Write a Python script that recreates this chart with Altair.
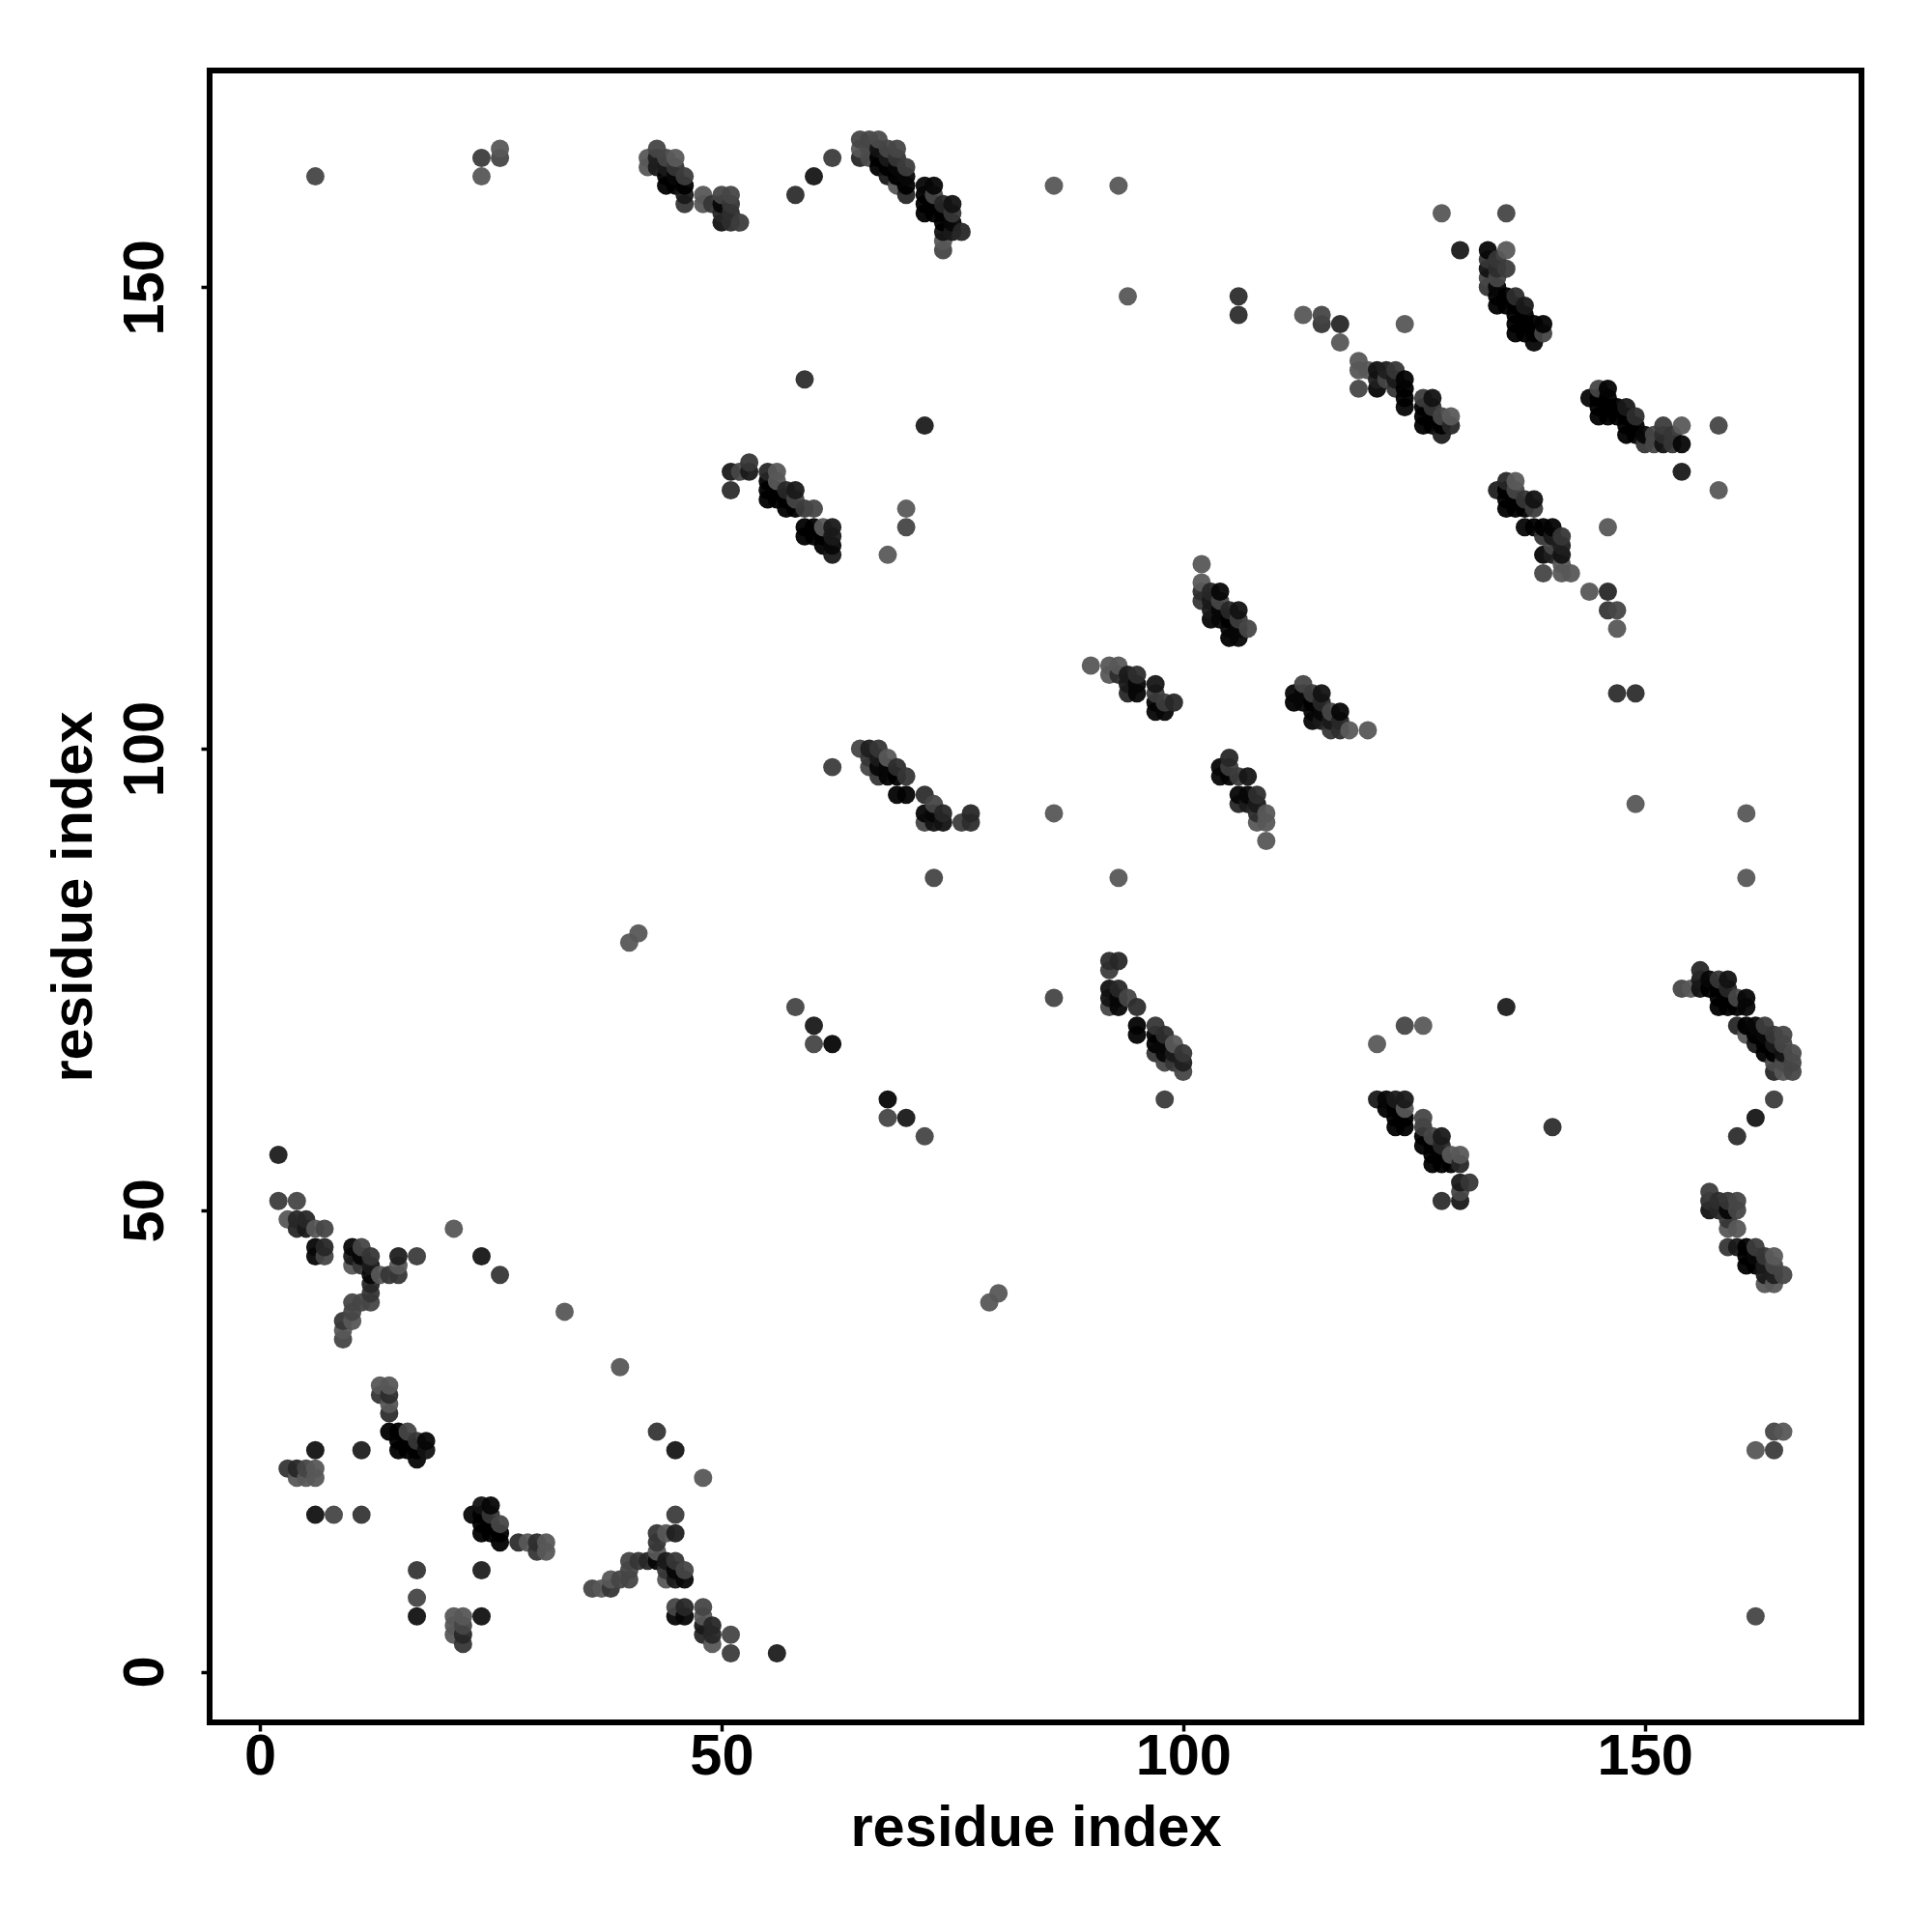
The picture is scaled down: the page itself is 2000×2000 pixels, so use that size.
import altair as alt
import pandas as pd

# Contact pairs (lower residue, higher residue, grey level of the mark).
near_diagonal = [
    (2,56,0x28),(2,51,0x4a),(4,51,0x55),(3,49,0x66),(4,49,0x33),(5,49,0x33),(4,48,0x33),(5,48,0x22),
    (6,48,0x66),(7,48,0x55),(21,48,0x66),(6,46,0x11),(7,46,0x33),(10,46,0x11),(11,46,0x55),(6,45,0x11),
    (7,45,0x55),(10,45,0x22),(11,45,0x11),(12,45,0x44),(15,45,0x2a),(17,45,0x4a),(24,45,0x1f),(10,44,0x66),
    (11,44,0x44),(12,44,0x22),(15,44,0x66),(12,43,0x11),(13,43,0x66),(14,43,0x44),(15,43,0x44),(26,43,0x44),
    (12,42,0x33),(12,41,0x44),(10,40,0x55),(11,40,0x55),(12,40,0x55),(10,39,0x55),(33,39,0x66),(9,38,0x44),
    (10,38,0x66),(9,37,0x66),(9,36,0x55),(13,31,0x66),(14,31,0x66),(13,30,0x44),(14,30,0x3a),(14,29,0x66),
    (14,28,0x3a),(14,26,0x0a),(15,26,0x0a),(16,26,0x55),(15,25,0x0a),(16,25,0x0a),(17,25,0x44),(18,25,0x11),
    (6,24,0x1a),(11,24,0x2a),(15,24,0x0a),(16,24,0x0a),(17,24,0x0a),(18,24,0x1a),(17,23,0x11),(3,22,0x44),
    (4,22,0x33),(5,22,0x55),(6,22,0x66),(4,21,0x66),(5,21,0x66),(6,21,0x66),(6,17,0x1a),(8,17,0x55),(11,17,0x44),
]
block_43_52 = [
    (43,165,0x55),(42,164,0x66),(43,164,0x2a),(44,164,0x55),(45,164,0x6a),(42,163,0x66),(43,163,0x22),
    (44,163,0x22),(45,163,0x44),(44,162,0x0a),(45,162,0x11),(46,162,0x4a),(44,161,0x0a),(45,161,0x0a),
    (46,161,0x0a),(46,160,0x22),(46,159,0x44),(48,160,0x66),(48,159,0x66),(49,159,0x44),(50,160,0x55),
    (51,160,0x55),(50,159,0x11),(51,159,0x44),(50,158,0x33),(51,158,0x3a),(50,157,0x1a),(51,157,0x3a),(52,157,0x4a),
]
block_65_76 = [
    (65,166,0x55),(66,166,0x55),(67,166,0x5a),(65,165,0x66),(66,165,0x5a),(67,165,0x1a),(68,165,0x55),(69,165,0x55),
    (65,164,0x33),(66,164,0x5a),(67,164,0x0a),(68,164,0x22),(69,164,0x44),(67,163,0x0a),(68,163,0x0a),(69,163,0x11),
    (70,163,0x4a),(68,162,0x22),(69,162,0x0a),(70,162,0x11),(69,161,0x66),(70,161,0x0a),(70,160,0x33),
    (72,161,0x11),(73,161,0x11),(72,160,0x0a),(73,160,0x55),(72,159,0x0a),(73,159,0x0a),(74,159,0x33),(75,159,0x1a),
    (72,158,0x0a),(73,158,0x0a),(74,158,0x0a),(75,158,0x44),(74,157,0x0a),(75,157,0x11),(74,156,0x1a),(75,156,0x22),
    (76,156,0x33),(74,155,0x66),(74,154,0x55),
]
block_51_62 = [
    (51,130,0x22),(52,130,0x55),(53,131,0x44),(53,130,0x22),(51,128,0x3a),(55,130,0x33),(56,130,0x66),(55,129,0x0a),
    (56,129,0x66),(55,128,0x0a),(56,128,0x0a),(57,128,0x33),(58,128,0x22),(55,127,0x0a),(56,127,0x0a),(57,127,0x0a),
    (58,127,0x55),(57,126,0x0a),(58,126,0x0a),(59,126,0x4a),(60,126,0x55),(59,124,0x0a),(60,124,0x0a),(61,124,0x66),
    (62,124,0x22),(59,123,0x0a),(60,123,0x0a),(61,123,0x0a),(62,123,0x22),(61,122,0x0a),(62,122,0x11),(62,121,0x22),
    (70,126,0x6a),(70,124,0x55),(68,121,0x6a),
]
block_65_77 = [
    (65,100,0x55),(66,100,0x2a),(67,100,0x44),(66,99,0x44),(67,99,0x22),(68,99,0x66),(62,98,0x4a),(66,98,0x55),
    (67,98,0x11),(68,98,0x11),(69,98,0x3a),(67,97,0x44),(68,97,0x0f),(69,97,0x0a),(70,97,0x44),(69,95,0x0f),
    (70,95,0x0f),(72,95,0x3a),(73,94,0x55),(72,93,0x11),(73,93,0x11),(74,93,0x33),(77,93,0x33),(72,92,0x55),
    (73,92,0x1a),(74,92,0x1a),(76,92,0x4a),(77,92,0x3a),
]
block_90_99 = [
    (90,109,0x66),(92,109,0x66),(93,109,0x66),(92,108,0x66),(93,108,0x3a),(94,108,0x22),(95,108,0x3a),(94,107,0x22),
    (95,107,0x11),(97,107,0x1f),(94,106,0x33),(95,106,0x11),(97,106,0x4a),(97,105,0x0f),(98,105,0x4a),(99,105,0x33),
    (97,104,0x11),(98,104,0x11),
]
block_102_107 = [
    (102,120,0x66),(102,118,0x6a),(102,117,0x3a),(103,117,0x33),(104,117,0x11),(102,116,0x44),(103,116,0x22),
    (104,116,0x55),(103,115,0x22),(104,115,0x11),(105,115,0x33),(106,115,0x1a),(103,114,0x11),(104,114,0x11),
    (105,114,0x0a),(106,114,0x4a),(105,113,0x11),(106,113,0x11),(107,113,0x55),(105,112,0x0a),(106,112,0x11),
]
block_119_129 = [
    (119,142,0x66),(119,141,0x66),(120,141,0x66),(119,139,0x55),(121,141,0x1a),(122,141,0x2a),(123,141,0x44),
    (121,140,0x2a),(122,140,0x55),(123,140,0x22),(124,140,0x0f),(121,139,0x11),(123,139,0x44),(124,139,0x0a),
    (124,138,0x0a),(126,138,0x4a),(127,138,0x1a),(124,137,0x11),(126,137,0x0a),(127,137,0x44),(126,136,0x0a),
    (127,136,0x0a),(128,136,0x55),(129,136,0x6a),(126,135,0x0a),(127,135,0x0a),(128,135,0x0a),(129,135,0x33),(128,134,0x2a),
]
block_133_139 = [
    (133,154,0x11),(134,153,0x44),(133,153,0x44),(133,152,0x1a),(134,152,0x3a),(135,152,0x4a),(133,151,0x55),(134,151,0x55),
    (133,150,0x44),(134,150,0x11),(134,149,0x0a),(135,149,0x0a),(136,149,0x3a),(134,148,0x0a),(135,148,0x0a),
    (136,148,0x0a),(137,148,0x22),(136,147,0x0a),(137,147,0x0a),(136,146,0x0a),(137,146,0x0a),(138,146,0x0a),
    (139,146,0x0f),(136,145,0x0a),(137,145,0x0a),(138,145,0x0a),(139,145,0x55),(138,144,0x11),
]
isolated = [
    (6,162,0x55),(24,164,0x4a),(24,162,0x66),(26,164,0x55),(26,165,0x66),(58,160,0x3a),(60,162,0x1f),(62,164,0x4a),
    (59,140,0x3a),(72,135,0x26),(86,161,0x66),(93,161,0x66),(94,149,0x66),(106,149,0x3a),(106,147,0x3a),(113,147,0x66),
    (115,147,0x55),(115,146,0x44),(117,146,0x33),(117,144,0x66),(124,146,0x66),(128,158,0x66),(135,158,0x55),
    (130,154,0x22),(135,154,0x6a),(58,72,0x55),(60,70,0x22),(60,68,0x55),(62,68,0x11),(40,79,0x66),(41,80,0x66),
    (73,86,0x55),(86,93,0x66),
]

x_ticks = [0, 50, 100, 150]
y_ticks = [0, 50, 100, 150]

pairs = (near_diagonal + block_43_52 + block_65_76 + block_51_62 + block_65_77 + block_90_99
         + block_102_107 + block_119_129 + block_133_139 + isolated)
rows = []
for a, b, g in pairs:
    rows.append({"x": a, "y": b, "g": g})
    rows.append({"x": b, "y": a, "g": g})
df = pd.DataFrame(rows).drop_duplicates(["x", "y"]).sort_values(["x", "y"])

FONT = "Liberation Sans"
chart = (
    alt.Chart(df)
    .mark_circle(size=360, opacity=0.95)
    .encode(
        x=alt.X("x:Q", scale=alt.Scale(domain=[-5.45, 173.47], nice=False, zero=False),
                axis=alt.Axis(values=x_ticks, title="residue index", grid=False, domain=False,
                              tickSize=9, tickWidth=3.5, tickColor="black", labelFontSize=59.5,
                              labelFont=FONT, labelFontWeight="bold", labelColor="black", labelPadding=-3,
                              titleFont=FONT, titleFontWeight="bold", titleFontSize=59.6, titleColor="black",
                              titlePadding=16, labelOverlap=False)),
        y=alt.Y("y:Q", scale=alt.Scale(domain=[-5.49, 173.47], nice=False, zero=False),
                axis=alt.Axis(values=y_ticks, title="residue index", grid=False, domain=False,
                              tickSize=9, tickWidth=3.5, tickColor="black", labelFontSize=59.5, labelAngle=-90,
                              labelFont=FONT, labelFontWeight="bold", labelColor="black", labelPadding=28,
                              titleFont=FONT, titleFontWeight="bold", titleFontSize=59.6, titleColor="black",
                              titlePadding=13, labelOverlap=False)),
        color=alt.Color("g:Q", legend=None,
                        scale=alt.Scale(domain=[13, 255], range=["#000000", "#ffffff"], clamp=True)),
    )
    .properties(width=1710, height=1710, padding={"left": 38, "top": 65, "right": 10, "bottom": 10})
    .configure_view(stroke="black", strokeWidth=6)
)
chart.save("out.html", embed_options={"renderer": "svg", "actions": False})
